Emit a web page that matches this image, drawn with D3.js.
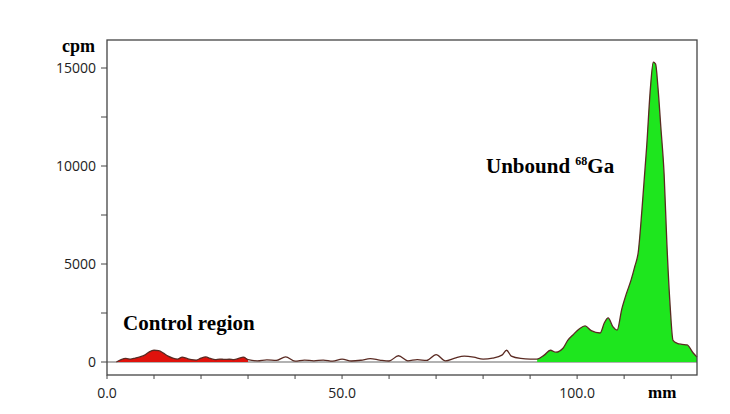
<!DOCTYPE html>
<html><head><meta charset="utf-8">
<script src="https://cdn.jsdelivr.net/npm/d3@7"></script>
<style>body{margin:0;background:#fff}</style>
</head><body>
<svg id="chart" width="730" height="414"></svg>
<script>
// position along strip (mm) and counts (cpm)
var posMm = [2,3,4,5,6,7,8,9,10,11,12,13,14,15,16,17,18,19,20,21,22,23,24,25,26,27,28,29,30,
  32,34,36,38,40,42,44,46,48,50,52,54,56,58,60,62,64,66,68,70,72,74,76,78,80,82,84,85,86,88,90,
  91.5,93,94.3,95.5,97,98,99.1,100.5,101.7,103,104.9,105.8,106.6,107.6,108.5,109.5,110.5,111.5,112.3,113,
  113.8,114.8,115.6,116.2,116.7,117.2,117.8,118.5,119.1,119.8,120.4,121.3,122.3,123.4,124.7,125.5];
var cpm = [0,120,180,150,200,260,350,520,600,580,450,300,200,150,250,180,120,100,200,260,180,120,150,130,140,120,180,250,120,
  60,110,80,260,40,100,60,100,40,150,50,90,170,100,50,320,60,120,80,380,60,200,300,250,150,200,350,600,300,180,150,
  150,350,600,500,700,1100,1380,1700,1840,1600,1480,2000,2250,1800,1630,2700,3500,4200,4900,5600,
  7800,11000,14000,15300,15200,14000,12000,9600,6000,2800,1100,950,900,870,460,250];
var yTicks = [0, 5000, 10000, 15000];
var xTicks = [0, 50, 100];
var controlEnd = 30, unboundStart = 91;

var svg = d3.select("#chart");
var x = d3.scaleLinear().domain([0, 125.5]).range([107, 697]);
var y = d3.scaleLinear().domain([0, 15000]).range([362, 68]);
var frameTop = 40, frameBottom = 375;

var pts = posMm.map(function(d, i){ return {x: d, y: cpm[i]}; });
var area = d3.area().curve(d3.curveMonotoneX)
  .x(function(d){ return x(d.x); }).y0(y(0)).y1(function(d){ return y(d.y); });
var line = d3.line().curve(d3.curveMonotoneX)
  .x(function(d){ return x(d.x); }).y(function(d){ return y(d.y); });

// zero line
svg.append("line").attr("x1", x(0)).attr("x2", 697).attr("y1", y(0)).attr("y2", y(0))
  .attr("stroke", "#666").attr("stroke-width", 1.2);

svg.append("path").datum(pts.filter(function(d){ return d.x <= controlEnd; }))
  .attr("d", area).attr("fill", "#e0120c");
svg.append("path").datum(pts.filter(function(d){ return d.x >= unboundStart; }))
  .attr("d", area).attr("fill", "#1ee61e");
svg.append("path").datum(pts).attr("d", line)
  .attr("fill", "none").attr("stroke", "#5a2a22").attr("stroke-width", 1.3);

// frame
svg.append("rect").attr("x", 107).attr("y", frameTop).attr("width", 697 - 107).attr("height", frameBottom - frameTop)
  .attr("fill", "none").attr("stroke", "#444").attr("stroke-width", 1.3);

var font = "'Open Sans', sans-serif";
yTicks.forEach(function(t){
  svg.append("text").attr("x", 96).attr("y", y(t) + 5).attr("text-anchor", "end")
    .attr("font-family", font).attr("font-size", 14).attr("fill", "#222").text(t);
});
d3.range(0, 15001, 2500).forEach(function(t){
  svg.append("line").attr("x1", 101).attr("x2", 107).attr("y1", y(t)).attr("y2", y(t)).attr("stroke", "#444");
});
d3.range(0, 125, 10).forEach(function(t){
  svg.append("line").attr("x1", x(t)).attr("x2", x(t)).attr("y1", frameBottom).attr("y2", frameBottom + 4).attr("stroke", "#444");
});
xTicks.forEach(function(t){
  svg.append("text").attr("x", x(t)).attr("y", 398).attr("text-anchor", "middle")
    .attr("font-family", font).attr("font-size", 14).attr("fill", "#222").text(t.toFixed(1));
});

var serif = "'Liberation Serif', 'DejaVu Serif', serif";
svg.append("text").attr("x", 62).attr("y", 52).attr("font-family", serif).attr("font-weight", "bold")
  .attr("font-size", 18).text("cpm");
svg.append("text").attr("x", 648).attr("y", 398).attr("font-family", serif).attr("font-weight", "bold")
  .attr("font-size", 17).text("mm");
svg.append("text").attr("x", 123).attr("y", 330).attr("font-family", serif).attr("font-weight", "bold")
  .attr("font-size", 21).text("Control region");
var lab = svg.append("text").attr("x", 486).attr("y", 173).attr("font-family", serif).attr("font-weight", "bold")
  .attr("font-size", 21);
lab.append("tspan").text("Unbound ");
lab.append("tspan").attr("font-size", 12).attr("dy", -8).text("68");
lab.append("tspan").attr("dy", 8).text("Ga");
</script>
</body></html>
